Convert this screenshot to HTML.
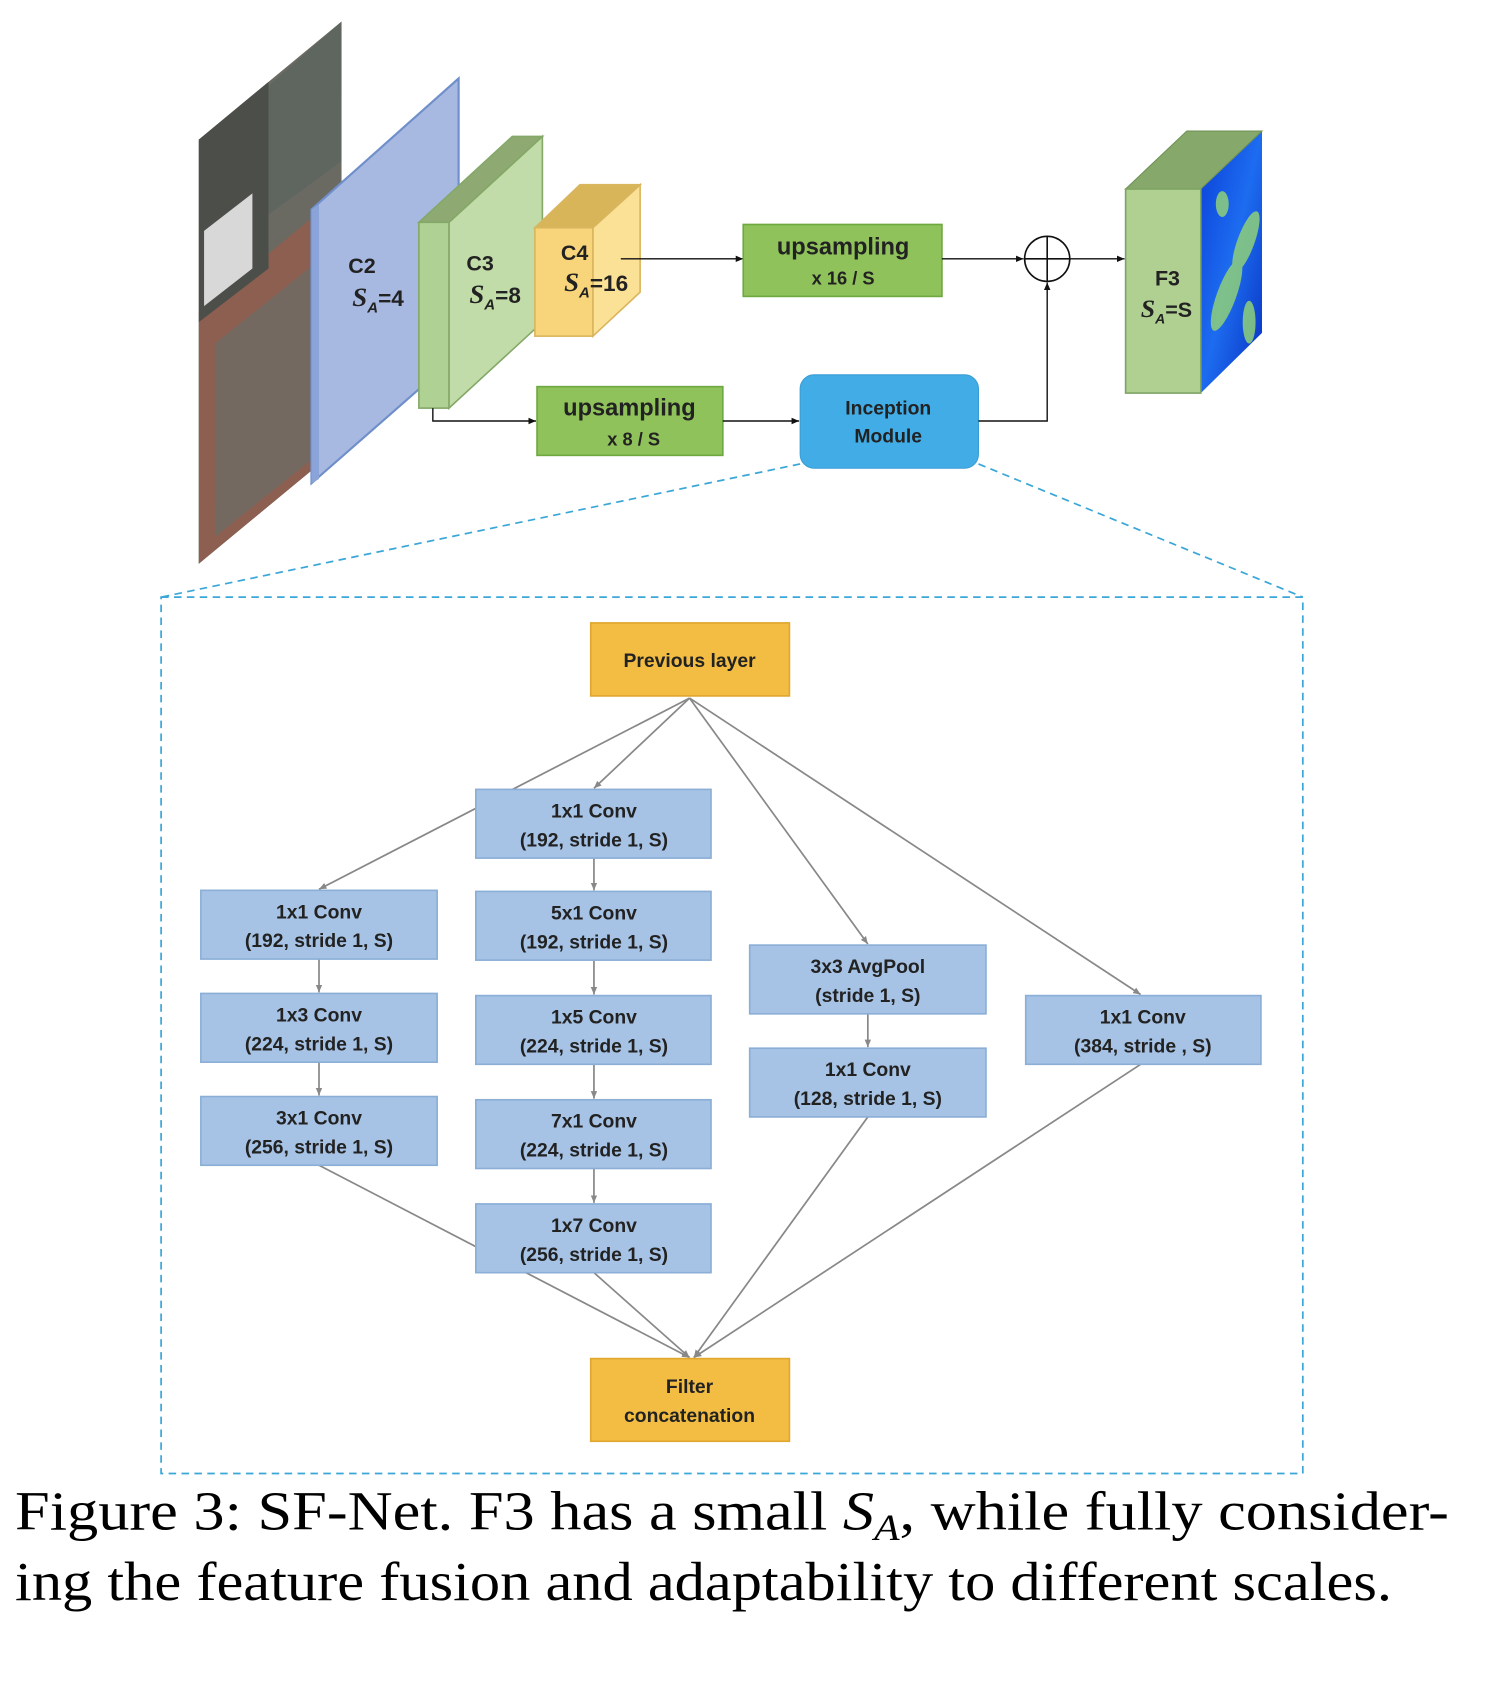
<!DOCTYPE html>
<html><head><style>
html,body{margin:0;padding:0;background:#fff;}
svg{display:block;}
.t{font-family:"Liberation Sans",sans-serif;font-weight:bold;fill:#222;text-anchor:middle;}
.c{font-family:"Liberation Serif",serif;fill:#000;}
</style></head><body>
<svg width="1494" height="1684" viewBox="0 0 1391 1568" preserveAspectRatio="none" xmlns="http://www.w3.org/2000/svg">
<defs>
<marker id="ak" markerWidth="8" markerHeight="8" refX="7" refY="4" orient="auto" markerUnits="userSpaceOnUse"><path d="M0,1 L7,4 L0,7 z" fill="#111"/></marker>
<marker id="ag" markerWidth="8" markerHeight="8" refX="7" refY="4" orient="auto" markerUnits="userSpaceOnUse"><path d="M0,1 L7,4 L0,7 z" fill="#888"/></marker>
<linearGradient id="hm" x1="0" y1="0" x2="1" y2="1"><stop offset="0" stop-color="#0a3fd8"/><stop offset="0.5" stop-color="#1d6cf0"/><stop offset="1" stop-color="#0830c0"/></linearGradient>
<clipPath id="aer"><polygon points="185,130 318,20 318,415 185,525"/></clipPath>
</defs>
<polygon points="185,130 318,20 318,415 185,525" fill="#6a6a62"/>
<g clip-path="url(#aer)">
<polygon points="185,290 318,180 318,415 185,525" fill="#8c5f50"/>
<polygon points="185,130 250,76 250,250 185,300" fill="#4c4e4a"/>
<polygon points="190,215 235,180 235,250 190,285" fill="#d8d8d8"/>
<polygon points="250,80 318,20 318,150 250,200" fill="#5f6660"/>
<polygon points="200,320 300,240 300,420 200,500" fill="#62706a" opacity="0.6"/>
</g>
<polygon points="290,195 427,73 427,330 290,450" fill="#a7b9e1" stroke="#6f8fca" stroke-width="2"/>
<polygon points="290,195 297,190 297,446 290,450" fill="#8aa3d8"/>
<polygon points="418,207 505,127 505,300 418,380" fill="#c1dca8" stroke="#84a868" stroke-width="1.5"/>
<polygon points="390,207 477,127 505,127 418,207" fill="#8eaa72" stroke="#84a868" stroke-width="1.5"/>
<rect x="390" y="207" width="28" height="173" fill="#b0d194" stroke="#84a868" stroke-width="1.5"/>
<polygon points="552,212 596,172 596,272 552,313" fill="#fbe196" stroke="#d9b55e" stroke-width="1.5"/>
<polygon points="498,212 540,172 596,172 552,212" fill="#d9b55a" stroke="#d9b55e" stroke-width="1.5"/>
<rect x="498" y="212" width="54" height="101" fill="#f8d57a" stroke="#d9b55e" stroke-width="1.5"/>
<text class="t" x="337" y="254" font-size="20">C2</text>
<text class="t" x="352" y="285" font-size="21"><tspan font-family="Liberation Serif" font-style="italic" font-size="25">S</tspan><tspan font-size="14" dy="6" font-style="italic">A</tspan><tspan dy="-6">=4</tspan></text>
<text class="t" x="447" y="252" font-size="20">C3</text>
<text class="t" x="461" y="282" font-size="21"><tspan font-family="Liberation Serif" font-style="italic" font-size="25">S</tspan><tspan font-size="14" dy="6" font-style="italic">A</tspan><tspan dy="-6">=8</tspan></text>
<text class="t" x="535" y="242" font-size="20">C4</text>
<text class="t" x="555" y="271" font-size="21"><tspan font-family="Liberation Serif" font-style="italic" font-size="25">S</tspan><tspan font-size="14" dy="6" font-style="italic">A</tspan><tspan dy="-6">=16</tspan></text>
<line x1="578" y1="241" x2="692" y2="241" stroke="#111" stroke-width="1.3" marker-end="url(#ak)"/>
<rect x="692" y="209" width="185" height="67" fill="#8fc25a" stroke="#6ea840" stroke-width="1.5"/>
<text class="t" x="785" y="237" font-size="22">upsampling</text>
<text class="t" x="785" y="265" font-size="17" font-weight="normal">x 16 / S</text>
<line x1="877" y1="241" x2="953" y2="241" stroke="#111" stroke-width="1.3" marker-end="url(#ak)"/>
<circle cx="975" cy="241" r="21" fill="none" stroke="#111" stroke-width="1.5"/>
<line x1="954" y1="241" x2="996" y2="241" stroke="#111" stroke-width="1.5"/>
<line x1="975" y1="220" x2="975" y2="262" stroke="#111" stroke-width="1.5"/>
<line x1="996" y1="241" x2="1047" y2="241" stroke="#111" stroke-width="1.3" marker-end="url(#ak)"/>
<polygon points="1118,176 1175,122 1175,310 1118,366" fill="url(#hm)"/>
<g fill="#8fd07a" opacity="0.85"><ellipse cx="1160" cy="225" rx="8" ry="30" transform="rotate(20 1160 225)"/><ellipse cx="1142" cy="275" rx="9" ry="35" transform="rotate(20 1142 275)"/><ellipse cx="1163" cy="300" rx="6" ry="20"/><ellipse cx="1138" cy="190" rx="6" ry="12"/></g>
<polygon points="1048,176 1105,122 1175,122 1118,176" fill="#86a86a" stroke="#6f9156"/>
<rect x="1048" y="176" width="70" height="190" fill="#afd090" stroke="#7ea464" stroke-width="1.5"/>
<text class="t" x="1087" y="266" font-size="20">F3</text>
<text class="t" x="1086" y="295" font-size="20"><tspan font-family="Liberation Serif" font-style="italic" font-size="24">S</tspan><tspan font-size="13" dy="6" font-style="italic">A</tspan><tspan dy="-6">=S</tspan></text>
<polyline points="403,380 403,392 499,392" fill="none" stroke="#111" stroke-width="1.3" marker-end="url(#ak)"/>
<rect x="500" y="360" width="173" height="64" fill="#8fc25a" stroke="#6ea840" stroke-width="1.5"/>
<text class="t" x="586" y="387" font-size="22">upsampling</text>
<text class="t" x="590" y="415" font-size="17" font-weight="normal">x 8 / S</text>
<line x1="673" y1="392" x2="744" y2="392" stroke="#111" stroke-width="1.3" marker-end="url(#ak)"/>
<rect x="745" y="349" width="166" height="87" rx="13" fill="#41ace6" stroke="#3a9ed6"/>
<text class="t" x="827" y="386" font-size="18" font-weight="normal">Inception</text>
<text class="t" x="827" y="412" font-size="18" font-weight="normal">Module</text>
<polyline points="911,392 975,392 975,263" fill="none" stroke="#111" stroke-width="1.3" marker-end="url(#ak)"/>
<g stroke="#3aa7d8" stroke-width="1.6" stroke-dasharray="7,5" fill="none">
<line x1="745" y1="432" x2="150" y2="556"/>
<line x1="911" y1="432" x2="1213" y2="556"/>
<rect x="150" y="556" width="1063" height="816"/>
</g>
<g stroke="#888" stroke-width="1.6" fill="none">
<line x1="642" y1="650" x2="297" y2="828" marker-end="url(#ag)"/>
<line x1="642" y1="650" x2="553" y2="734" marker-end="url(#ag)"/>
<line x1="642" y1="650" x2="808" y2="879" marker-end="url(#ag)"/>
<line x1="642" y1="650" x2="1062" y2="926" marker-end="url(#ag)"/>
<line x1="297" y1="893" x2="297" y2="924" marker-end="url(#ag)"/>
<line x1="297" y1="989" x2="297" y2="1020" marker-end="url(#ag)"/>
<line x1="553" y1="799" x2="553" y2="829" marker-end="url(#ag)"/>
<line x1="553" y1="894" x2="553" y2="926" marker-end="url(#ag)"/>
<line x1="553" y1="991" x2="553" y2="1023" marker-end="url(#ag)"/>
<line x1="553" y1="1088" x2="553" y2="1120" marker-end="url(#ag)"/>
<line x1="808" y1="944" x2="808" y2="975" marker-end="url(#ag)"/>
<line x1="297" y1="1085" x2="642" y2="1264" marker-end="url(#ag)"/>
<line x1="553" y1="1185" x2="642" y2="1264" marker-end="url(#ag)"/>
<line x1="808" y1="1040" x2="646" y2="1264" marker-end="url(#ag)"/>
<line x1="1062" y1="991" x2="646" y2="1264" marker-end="url(#ag)"/>
</g>
<g fill="#a6c3e5" stroke="#8aaed6" stroke-width="1.5">
<rect x="443" y="735" width="219" height="64"/>
<rect x="187" y="829" width="220" height="64"/>
<rect x="187" y="925" width="220" height="64"/>
<rect x="187" y="1021" width="220" height="64"/>
<rect x="443" y="830" width="219" height="64"/>
<rect x="443" y="927" width="219" height="64"/>
<rect x="443" y="1024" width="219" height="64"/>
<rect x="443" y="1121" width="219" height="64"/>
<rect x="698" y="880" width="220" height="64"/>
<rect x="698" y="976" width="220" height="64"/>
<rect x="955" y="927" width="219" height="64"/>
</g>
<g fill="#f2bd42" stroke="#e0a630" stroke-width="1.5">
<rect x="550" y="580" width="185" height="68"/>
<rect x="550" y="1265" width="185" height="77"/>
</g>
<g class="t" font-size="18">
<text x="642" y="621">Previous layer</text>
<text x="553" y="761">1x1 Conv</text><text x="553" y="788">(192, stride 1, S)</text>
<text x="297" y="855">1x1 Conv</text><text x="297" y="882">(192, stride 1, S)</text>
<text x="297" y="951">1x3 Conv</text><text x="297" y="978">(224, stride 1, S)</text>
<text x="297" y="1047">3x1 Conv</text><text x="297" y="1074">(256, stride 1, S)</text>
<text x="553" y="856">5x1 Conv</text><text x="553" y="883">(192, stride 1, S)</text>
<text x="553" y="953">1x5 Conv</text><text x="553" y="980">(224, stride 1, S)</text>
<text x="553" y="1050">7x1 Conv</text><text x="553" y="1077">(224, stride 1, S)</text>
<text x="553" y="1147">1x7 Conv</text><text x="553" y="1174">(256, stride 1, S)</text>
<text x="808" y="906">3x3 AvgPool</text><text x="808" y="933">(stride 1, S)</text>
<text x="808" y="1002">1x1 Conv</text><text x="808" y="1029">(128, stride 1, S)</text>
<text x="1064" y="953">1x1 Conv</text><text x="1064" y="980">(384, stride , S)</text>
<text x="642" y="1297">Filter</text><text x="642" y="1324">concatenation</text>
</g>
<text class="c" x="14" y="1424" font-size="51" textLength="1335" lengthAdjust="spacingAndGlyphs">Figure 3: SF-Net. F3 has a small <tspan font-style="italic">S</tspan><tspan font-style="italic" font-size="34" dy="10">A</tspan><tspan dy="-10">, while fully consider-</tspan></text>
<text class="c" x="14" y="1490" font-size="51" textLength="1282" lengthAdjust="spacingAndGlyphs">ing the feature fusion and adaptability to different scales.</text>
</svg>
</body></html>
